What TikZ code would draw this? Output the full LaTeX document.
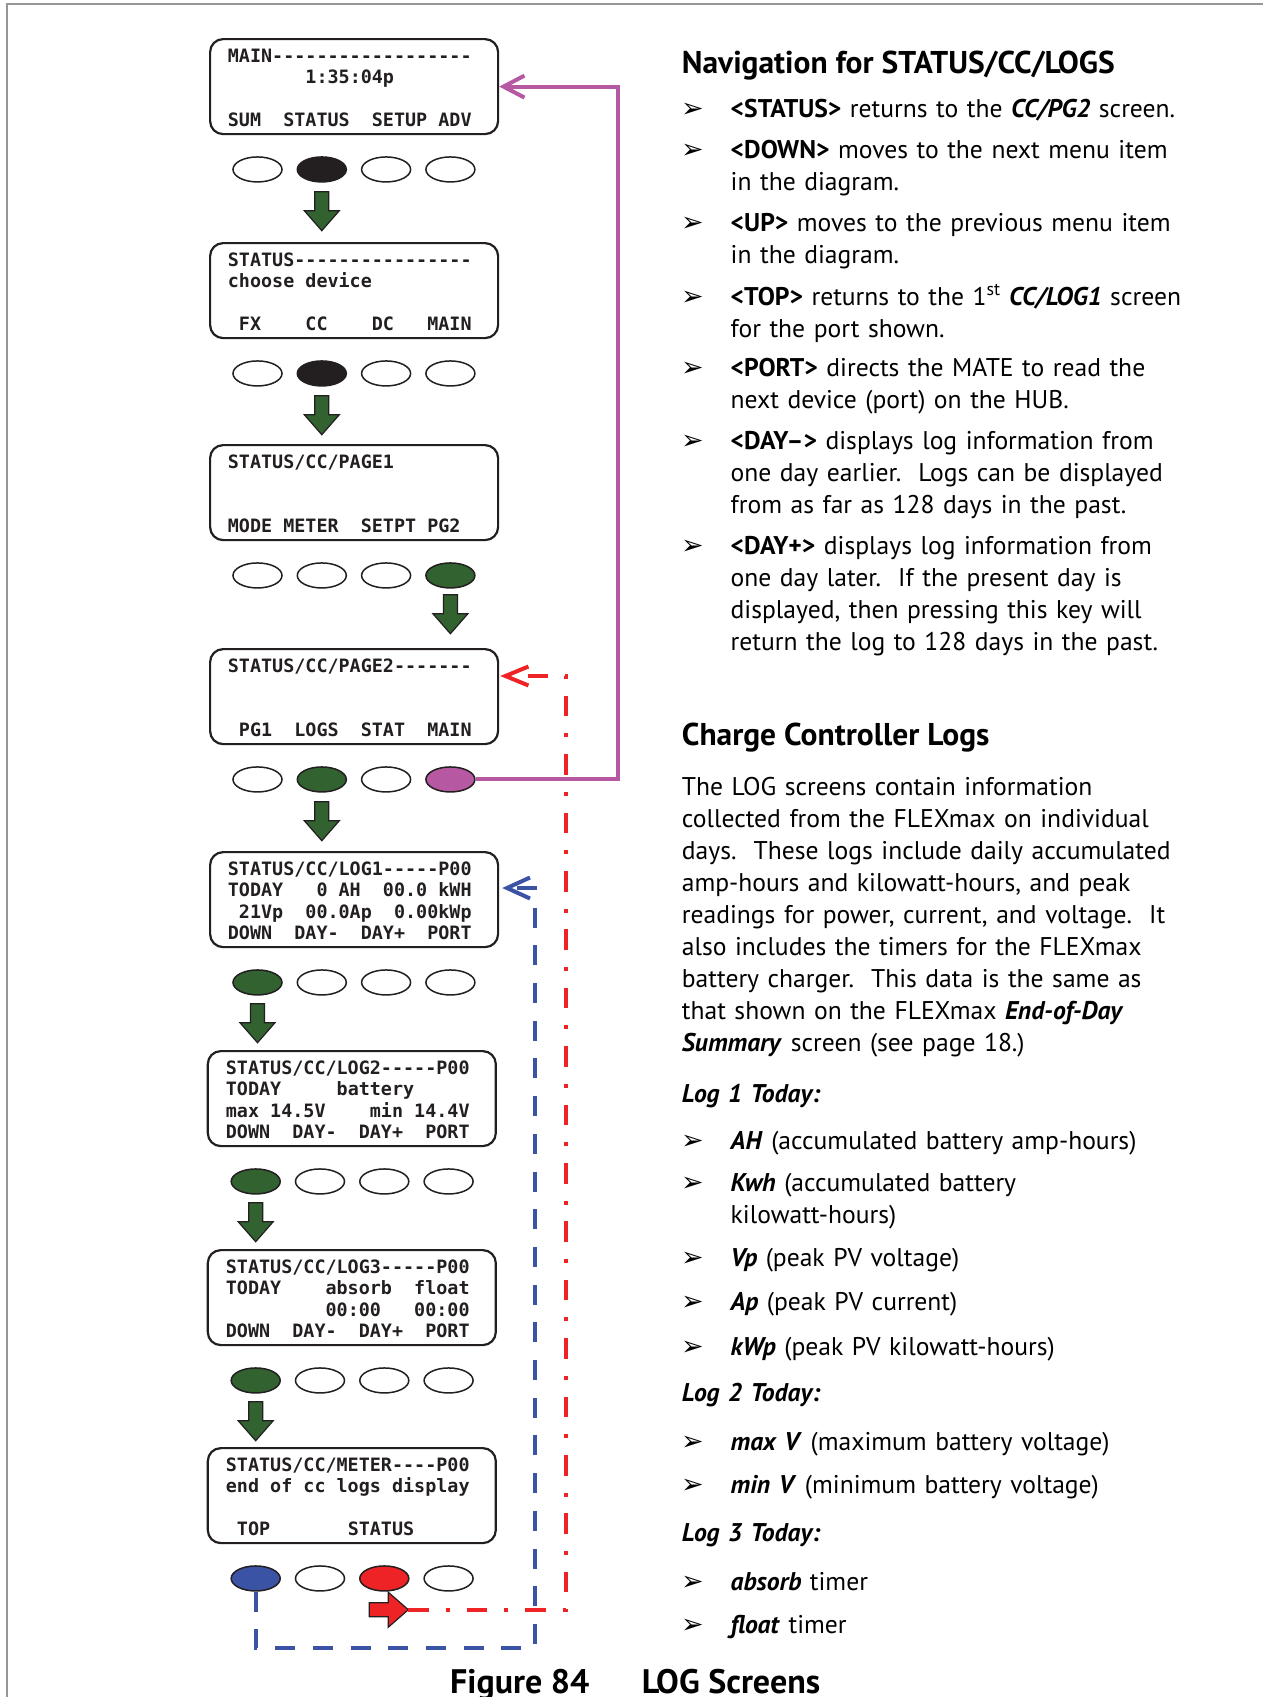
\documentclass[tikz,border=0pt]{standalone}
\usepackage{fontspec}
\setmainfont{PT Sans}
\newfontfamily\lcdfont{DejaVu Sans Mono}
\newfontfamily\dingfont{DejaVu Sans}
\usetikzlibrary{arrows.meta, positioning, shapes.geometric, calc}
\definecolor{inkgray}{RGB}{35,31,32}
\definecolor{framegray}{RGB}{150,150,150}
\definecolor{keygreen}{RGB}{49,98,48}
\definecolor{keypurple}{RGB}{182,88,162}
\definecolor{keyblue}{RGB}{58,83,164}
\definecolor{keyred}{RGB}{237,35,38}
\newcommand{\keyterm}[1]{\textbf{\textit{#1}}}
\newcommand{\tick}{\leavevmode\llap{\makebox[49.5pt][l]{\fontsize{27}{27}\dingfont ➢}}}

\begin{document}
\begin{tikzpicture}[
    x=1pt, y=-1pt,
    screen/.style={rectangle, rounded corners=13pt, draw=inkgray, line width=2.2pt, minimum width=288pt, minimum height=95pt, anchor=north west, inner sep=0pt},
    lcdtext/.style={anchor=base west, inner sep=0pt, text width=260pt, align=left, font=\fontsize{18.4}{21.5}\lcdfont\bfseries, text=inkgray, execute at begin node={\spaceskip=0pt\xspaceskip=0pt\relax}},
    key/.style={ellipse, draw=inkgray, fill=white, line width=1.5pt, minimum width=49pt, minimum height=25pt, inner sep=0pt},
    pics/blockarrow/.style={code={
        \draw[draw=inkgray, line width=1.2pt, fill=#1] (-7,0) -- (-7,19) -- (-17.5,19) -- (0,39) -- (17.5,19) -- (7,19) -- (7,0) -- cycle;
        \coordinate (-tip) at (0,39);}},
    navline/.style={line width=4pt},
    navpurple/.style={navline, draw=keypurple, -{Straight Barb[length=21pt, width=22pt]}},
    navred/.style={navline, draw=keyred, dash pattern=on 20.7pt off 16.7pt on 4pt off 17pt, -{Straight Barb[length=23pt, width=19pt]}},
    navblue/.style={navline, draw=keyblue, dash pattern=on 20pt off 17.7pt, -{Straight Barb[length=23pt, width=21pt]}},
    heading/.style={anchor=base west, inner sep=0pt, font=\fontsize{31.5}{36}\selectfont\bfseries},
    body/.style={anchor=base west, inner sep=0pt, text width=560pt, align=left, font=\fontsize{25.6}{32.1}\selectfont},
    caption/.style={anchor=base west, inner sep=0pt, font=\fontsize{34}{40}\selectfont\bfseries}
]
\useasboundingbox (0,0) rectangle (1263,1697);
\draw[framegray, line width=1.7pt] (7,1697) -- (7,4) -- (1263,4);

% screens
\node[screen] (main) at (209,38) {};
\node[lcdtext] (main-txt) at ($(main.north west)+(18.7,24)$) {MAIN------------------\\~~~~~~~1:35:04p\\\mbox{}\\SUM~~STATUS~~SETUP~ADV};
\node[screen] (device) at (209,242) {};
\node[lcdtext] (device-txt) at ($(device.north west)+(18.7,24)$) {STATUS----------------\\choose~device\\\mbox{}\\~FX~~~~CC~~~~DC~~~MAIN};
\node[screen] (page1) at (209,444) {};
\node[lcdtext] (page1-txt) at ($(page1.north west)+(18.7,24)$) {STATUS/CC/PAGE1\\\mbox{}\\\mbox{}\\MODE~METER~~SETPT~PG2};
\node[screen] (page2) at (209,648) {};
\node[lcdtext] (page2-txt) at ($(page2.north west)+(18.7,24)$) {STATUS/CC/PAGE2-------\\\mbox{}\\\mbox{}\\~PG1~~LOGS~~STAT~~MAIN};
\node[screen] (log1) at (209,851) {};
\node[lcdtext] (log1-txt) at ($(log1.north west)+(18.7,24)$) {STATUS/CC/LOG1-----P00\\TODAY~~~0~AH~~00.0~kWH\\~21Vp~~00.0Ap~~0.00kWp\\DOWN~~DAY-~~DAY+~~PORT};
\node[screen] (log2) at (206.7,1050) {};
\node[lcdtext] (log2-txt) at ($(log2.north west)+(19,24)$) {STATUS/CC/LOG2-----P00\\TODAY~~~~~battery\\max~14.5V~~~~min~14.4V\\DOWN~~DAY-~~DAY+~~PORT};
\node[screen] (log3) at (206.7,1249) {};
\node[lcdtext] (log3-txt) at ($(log3.north west)+(19,24)$) {STATUS/CC/LOG3-----P00\\TODAY~~~~absorb~~float\\~~~~~~~~~00:00~~~00:00\\DOWN~~DAY-~~DAY+~~PORT};
\node[screen] (meter) at (206.7,1447) {};
\node[lcdtext] (meter-txt) at ($(meter.north west)+(19,24)$) {STATUS/CC/METER----P00\\end~of~cc~logs~display\\\mbox{}\\~TOP~~~~~~~STATUS};

% keys
\node[key, below=21pt of main.south west, xshift=48.5pt] (main-k1) {};
\node[key, fill=inkgray, right=13.8pt of main-k1] (main-k2) {};
\node[key, right=13.8pt of main-k2] (main-k3) {};
\node[key, right=13.8pt of main-k3] (main-k4) {};
\node[key, below=21pt of device.south west, xshift=48.5pt] (device-k1) {};
\node[key, fill=inkgray, right=13.8pt of device-k1] (device-k2) {};
\node[key, right=13.8pt of device-k2] (device-k3) {};
\node[key, right=13.8pt of device-k3] (device-k4) {};
\node[key, below=21pt of page1.south west, xshift=48.5pt] (page1-k1) {};
\node[key, right=13.8pt of page1-k1] (page1-k2) {};
\node[key, right=13.8pt of page1-k2] (page1-k3) {};
\node[key, fill=keygreen, right=13.8pt of page1-k3] (page1-k4) {};
\node[key, below=21pt of page2.south west, xshift=48.5pt] (page2-k1) {};
\node[key, fill=keygreen, right=13.8pt of page2-k1] (page2-k2) {};
\node[key, right=13.8pt of page2-k2] (page2-k3) {};
\node[key, fill=keypurple, right=13.8pt of page2-k3] (page2-k4) {};
\node[key, fill=keygreen, below=21pt of log1.south west, xshift=48.5pt] (log1-k1) {};
\node[key, right=13.8pt of log1-k1] (log1-k2) {};
\node[key, right=13.8pt of log1-k2] (log1-k3) {};
\node[key, right=13.8pt of log1-k3] (log1-k4) {};
\node[key, fill=keygreen, below=21pt of log2.south west, xshift=49pt] (log2-k1) {};
\node[key, right=13.8pt of log2-k1] (log2-k2) {};
\node[key, right=13.8pt of log2-k2] (log2-k3) {};
\node[key, right=13.8pt of log2-k3] (log2-k4) {};
\node[key, fill=keygreen, below=21pt of log3.south west, xshift=49pt] (log3-k1) {};
\node[key, right=13.8pt of log3-k1] (log3-k2) {};
\node[key, right=13.8pt of log3-k2] (log3-k3) {};
\node[key, right=13.8pt of log3-k3] (log3-k4) {};
\node[key, fill=keyblue, below=21pt of meter.south west, xshift=49pt] (meter-k1) {};
\node[key, right=13.8pt of meter-k1] (meter-k2) {};
\node[key, fill=keyred, right=13.8pt of meter-k2] (meter-k3) {};
\node[key, right=13.8pt of meter-k3] (meter-k4) {};

% block arrows
\pic (main-go) at ($(main-k2.south)+(0,9)$) {blockarrow=keygreen};
\pic (device-go) at ($(device-k2.south)+(0,9)$) {blockarrow=keygreen};
\pic (page1-go) at ($(page1-k4.south)+(0,6)$) {blockarrow=keygreen};
\pic (page2-go) at ($(page2-k2.south)+(0,9)$) {blockarrow=keygreen};
\pic (log1-go) at ($(log1-k1.south)+(0,8)$) {blockarrow=keygreen};
\pic (log2-go) at ($(log2-k1.south)+(0,8)$) {blockarrow=keygreen};
\pic (log3-go) at ($(log3-k1.south)+(0,8)$) {blockarrow=keygreen};
\pic[rotate=90] (meter-go) at ($(meter-k3.south)+(-15,18)$) {blockarrow=keyred};

% return paths
\draw[navpurple] (page2-k4.east) -- ++(142,0) |- (main.east);
\draw[navred] (meter-go-tip) -| ($(page2.north east)+(67,28)$) -- ($(page2.north east)+(1,28)$);
\draw[navblue] (meter-k1.south) -- ++(0,56) -| ($(log1.north east)+(36,37)$) -- ($(log1.north east)+(3,37)$);

% text column
\node[heading] (navhead) at (681.7,73.3) {Navigation for STATUS/CC/LOGS};
\node[body] (navstatus) at (730.5,117.3) {\tick\textbf{<STATUS>} returns to the \keyterm{CC/PG2} screen.};
\node[body] (navdown) at (730.5,158.3) {\tick\textbf{<DOWN>} moves to the next menu item\\in the diagram.};
\node[body] (navup) at (730.5,231.7) {\tick\textbf{<UP>} moves to the previous menu item\\in the diagram.};
\node[body] (navtop) at (730.5,305) {\tick\textbf{<TOP>} returns to the 1\textsuperscript{st} \keyterm{CC/LOG1} screen\\for the port shown.};
\node[body] (navport) at (730.5,376.7) {\tick\textbf{<PORT>} directs the MATE to read the\\next device (port) on the HUB.};
\node[body] (navdayminus) at (730.5,449.3) {\tick\textbf{<DAY–>} displays log information from\\one day earlier.~~Logs can be displayed\\from as far as 128 days in the past.};
\node[body] (navdayplus) at (730.5,554.3) {\tick\textbf{<DAY+>} displays log information from\\one day later.~~If the present day is\\displayed, then pressing this key will\\return the log to 128 days in the past.};

\node[heading] (cchead) at (681.7,745) {Charge Controller Logs};
\node[body] (ccpara) at (681.7,795) {The LOG screens contain information\\collected from the FLEXmax on individual\\days.~~These logs include daily accumulated\\amp-hours and kilowatt-hours, and peak\\readings for power, current, and voltage.~~It\\also includes the timers for the FLEXmax\\battery charger.~~This data is the same as\\that shown on the FLEXmax \keyterm{End-of-Day}\\\keyterm{Summary} screen (see page 18.)};

\node[body] (log1head) at (681.7,1102.7) {\keyterm{Log 1 Today:}};
\node[body] (itemah) at (730.5,1149.3) {\tick\keyterm{AH} (accumulated battery amp-hours)};
\node[body] (itemkwh) at (730.5,1191.7) {\tick\keyterm{Kwh} (accumulated battery\\kilowatt-hours)};
\node[body] (itemvp) at (730.5,1266.7) {\tick\keyterm{Vp} (peak PV voltage)};
\node[body] (itemap) at (730.5,1310.7) {\tick\keyterm{Ap} (peak PV current)};
\node[body] (itemkwp) at (730.5,1355) {\tick\keyterm{kWp} (peak PV kilowatt-hours)};
\node[body] (log2head) at (681.7,1401.7) {\keyterm{Log 2 Today:}};
\node[body] (itemmax) at (730.5,1450) {\tick\keyterm{max V} (maximum battery voltage)};
\node[body] (itemmin) at (730.5,1493.3) {\tick\keyterm{min V} (minimum battery voltage)};
\node[body] (log3head) at (681.7,1541.7) {\keyterm{Log 3 Today:}};
\node[body] (itemabsorb) at (730.5,1590) {\tick\keyterm{absorb} timer};
\node[body] (itemfloat) at (730.5,1633.3) {\tick\keyterm{float} timer};

\node[caption] (fignum) at (450,1693) {Figure 84};
\node[caption] (figtitle) at (641.7,1693) {LOG Screens};
\end{tikzpicture}
\end{document}
